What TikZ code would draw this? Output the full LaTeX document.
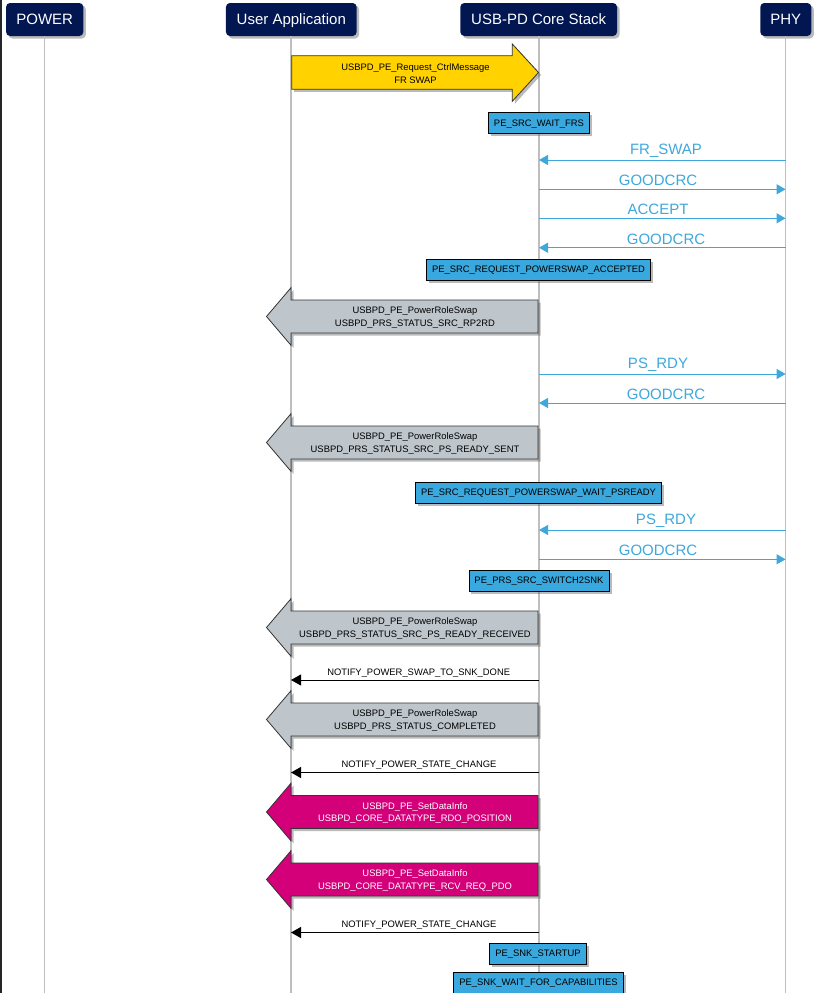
\documentclass[tikz,border=0pt]{standalone}
\usepackage{fontspec}
\setmainfont{Liberation Sans}
\usetikzlibrary{arrows.meta,shadows}
\definecolor{navy}{RGB}{2,22,82}
\definecolor{stblue}{RGB}{56,168,222}
\definecolor{msgblue}{RGB}{62,168,220}
\definecolor{lifegray}{RGB}{190,190,190}
\definecolor{ylw}{RGB}{255,210,0}
\definecolor{gry}{RGB}{190,198,204}
\definecolor{mgt}{RGB}{212,0,122}
\tikzset{
  shd/.style={drop shadow={shadow xshift=2.5pt,shadow yshift=-2.5pt,opacity=0.45,fill=black!60}},
  hdr/.style={rounded corners=4pt, fill=navy, text=white, font=\fontsize{15}{18}\selectfont,
    inner xsep=0pt, inner ysep=0pt, text height=10.7pt, text depth=0pt, minimum height=33pt, shd},
  stbox/.style={draw=black, line width=0.8pt, fill=stblue, font=\fontsize{9.4}{11}\selectfont,
    inner xsep=5.5pt, inner ysep=0pt, text height=6.8pt, text depth=0pt, minimum height=21pt, shd},
  life/.style={draw=lifegray, line width=1.5pt},
  msg/.style={draw=msgblue, line width=1pt, -{Triangle[length=9pt,width=10pt]}},
  msglbl/.style={text=msgblue, font=\fontsize{15}{18}\selectfont, inner sep=0pt},
  notearr/.style={draw=black, line width=0.9pt, -{Triangle[length=10pt,width=11pt]}},
  notelbl/.style={font=\fontsize{9.4}{11}\selectfont, inner sep=0pt},
  blk/.style={draw=black!80, line width=0.8pt, shd},
  blktxt/.style={font=\fontsize{9.4}{12.3}\selectfont, align=center, inner sep=0pt},
}
\newcommand\blkL[2]{%
  \path[blk, fill=#2] (538,#1-16.5) -- (291,#1-16.5) -- (291,#1-28.8) -- (266.5,#1)
    -- (291,#1+28.8) -- (291,#1+16.5) -- (538,#1+16.5) -- cycle;}
\begin{document}
\begin{tikzpicture}[x=1pt,y=-1pt]
\useasboundingbox (0,0) rectangle (826,993);
\fill[white] (0,0) rectangle (826,993);
\draw[line width=1.6pt, black!85] (0.8,0) -- (0.8,993);

% headers
\node[hdr, minimum width=77.3pt] (pow) at (44.7,19.5) {POWER};
\node[hdr, minimum width=130.7pt] (app) at (291.3,19.5) {User Application};
\node[hdr, minimum width=156.7pt] (core) at (538.7,19.5) {USB-PD Core Stack};
\node[hdr, minimum width=51pt] (phy) at (785.8,19.5) {PHY};

% lifelines
\coordinate (powE) at (44.4,993);
\coordinate (appE) at (291,993);
\coordinate (coreE) at (539,993);
\coordinate (phyE) at (785.6,993);
\draw[life] (pow.south -| powE) -- (powE);
\draw[life] (app.south -| appE) -- (appE);
\draw[life] (core.south -| coreE) -- (coreE);
\draw[life] (phy.south -| phyE) -- (phyE);

% yellow request arrow
\path[blk, fill=ylw] (291.7,55.7) -- (512.3,55.7) -- (512.3,44) -- (538.5,72.5)
  -- (512.3,101.3) -- (512.3,89.3) -- (291.7,89.3) -- cycle;
\node[blktxt] (req) at (415.5,73.5) {USBPD\_PE\_Request\_CtrlMessage\\FR SWAP};

\node[stbox] (s1) at (539,123) {PE\_SRC\_WAIT\_FRS};

% messages block 1
\coordinate (p1) at (785.6,160);   \coordinate (c1) at (539,160);
\coordinate (p2) at (785.6,189.3); \coordinate (c2) at (539,189.3);
\coordinate (p3) at (785.6,218.3); \coordinate (c3) at (539,218.3);
\coordinate (p4) at (785.6,247.7); \coordinate (c4) at (539,247.7);
\draw[msg] (p1) -- (c1);
\draw[msg] (c2) -- (p2);
\draw[msg] (c3) -- (p3);
\draw[msg] (p4) -- (c4);
\node[msglbl] (l1) at (666,151) {FR\_SWAP};
\node[msglbl] (l2) at (658,180.5) {GOODCRC};
\node[msglbl] (l3) at (658,209.5) {ACCEPT};
\node[msglbl] (l4) at (666,239) {GOODCRC};

\node[stbox] (s2) at (538.5,269.5) {PE\_SRC\_REQUEST\_POWERSWAP\_ACCEPTED};

\blkL{316.5}{gry}
\node[blktxt] (g1) at (415,317.5) {USBPD\_PE\_PowerRoleSwap\\USBPD\_PRS\_STATUS\_SRC\_RP2RD};

\coordinate (p5) at (785.6,374); \coordinate (c5) at (539,374);
\coordinate (p6) at (785.6,403); \coordinate (c6) at (539,403);
\draw[msg] (c5) -- (p5);
\draw[msg] (p6) -- (c6);
\node[msglbl] (l5) at (658,365) {PS\_RDY};
\node[msglbl] (l6) at (666,394) {GOODCRC};

\blkL{442.5}{gry}
\node[blktxt] (g2) at (415,443.5) {USBPD\_PE\_PowerRoleSwap\\USBPD\_PRS\_STATUS\_SRC\_PS\_READY\_SENT};

\node[stbox] (s3) at (538.5,492.5) {PE\_SRC\_REQUEST\_POWERSWAP\_WAIT\_PSREADY};

\coordinate (p7) at (785.6,530);   \coordinate (c7) at (539,530);
\coordinate (p8) at (785.6,559.3); \coordinate (c8) at (539,559.3);
\draw[msg] (p7) -- (c7);
\draw[msg] (c8) -- (p8);
\node[msglbl] (l7) at (666,521) {PS\_RDY};
\node[msglbl] (l8) at (658,550) {GOODCRC};

\node[stbox] (s4) at (539,580.5) {PE\_PRS\_SRC\_SWITCH2SNK};

\blkL{627.5}{gry}
\node[blktxt] (g3) at (415,628.5) {USBPD\_PE\_PowerRoleSwap\\USBPD\_PRS\_STATUS\_SRC\_PS\_READY\_RECEIVED};

\coordinate (n1c) at (539,680); \coordinate (n1a) at (291,680);
\draw[notearr] (n1c) -- (n1a);
\node[notelbl] (nl1) at (418.7,673) {NOTIFY\_POWER\_SWAP\_TO\_SNK\_DONE};

\blkL{719.5}{gry}
\node[blktxt] (g4) at (415,720.5) {USBPD\_PE\_PowerRoleSwap\\USBPD\_PRS\_STATUS\_COMPLETED};

\coordinate (n2c) at (539,772.5); \coordinate (n2a) at (291,772.5);
\draw[notearr] (n2c) -- (n2a);
\node[notelbl] (nl2) at (419,765.5) {NOTIFY\_POWER\_STATE\_CHANGE};

\blkL{812}{mgt}
\node[blktxt, text=white] (m1) at (415,813) {USBPD\_PE\_SetDataInfo\\USBPD\_CORE\_DATATYPE\_RDO\_POSITION};

\blkL{879.5}{mgt}
\node[blktxt, text=white] (m2) at (415,880.5) {USBPD\_PE\_SetDataInfo\\USBPD\_CORE\_DATATYPE\_RCV\_REQ\_PDO};

\coordinate (n3c) at (539,932.5); \coordinate (n3a) at (291,932.5);
\draw[notearr] (n3c) -- (n3a);
\node[notelbl] (nl3) at (419,925.5) {NOTIFY\_POWER\_STATE\_CHANGE};

\node[stbox] (s5) at (538,953.5) {PE\_SNK\_STARTUP};
\node[stbox] (s6) at (538.5,982.5) {PE\_SNK\_WAIT\_FOR\_CAPABILITIES};
\end{tikzpicture}
\end{document}
